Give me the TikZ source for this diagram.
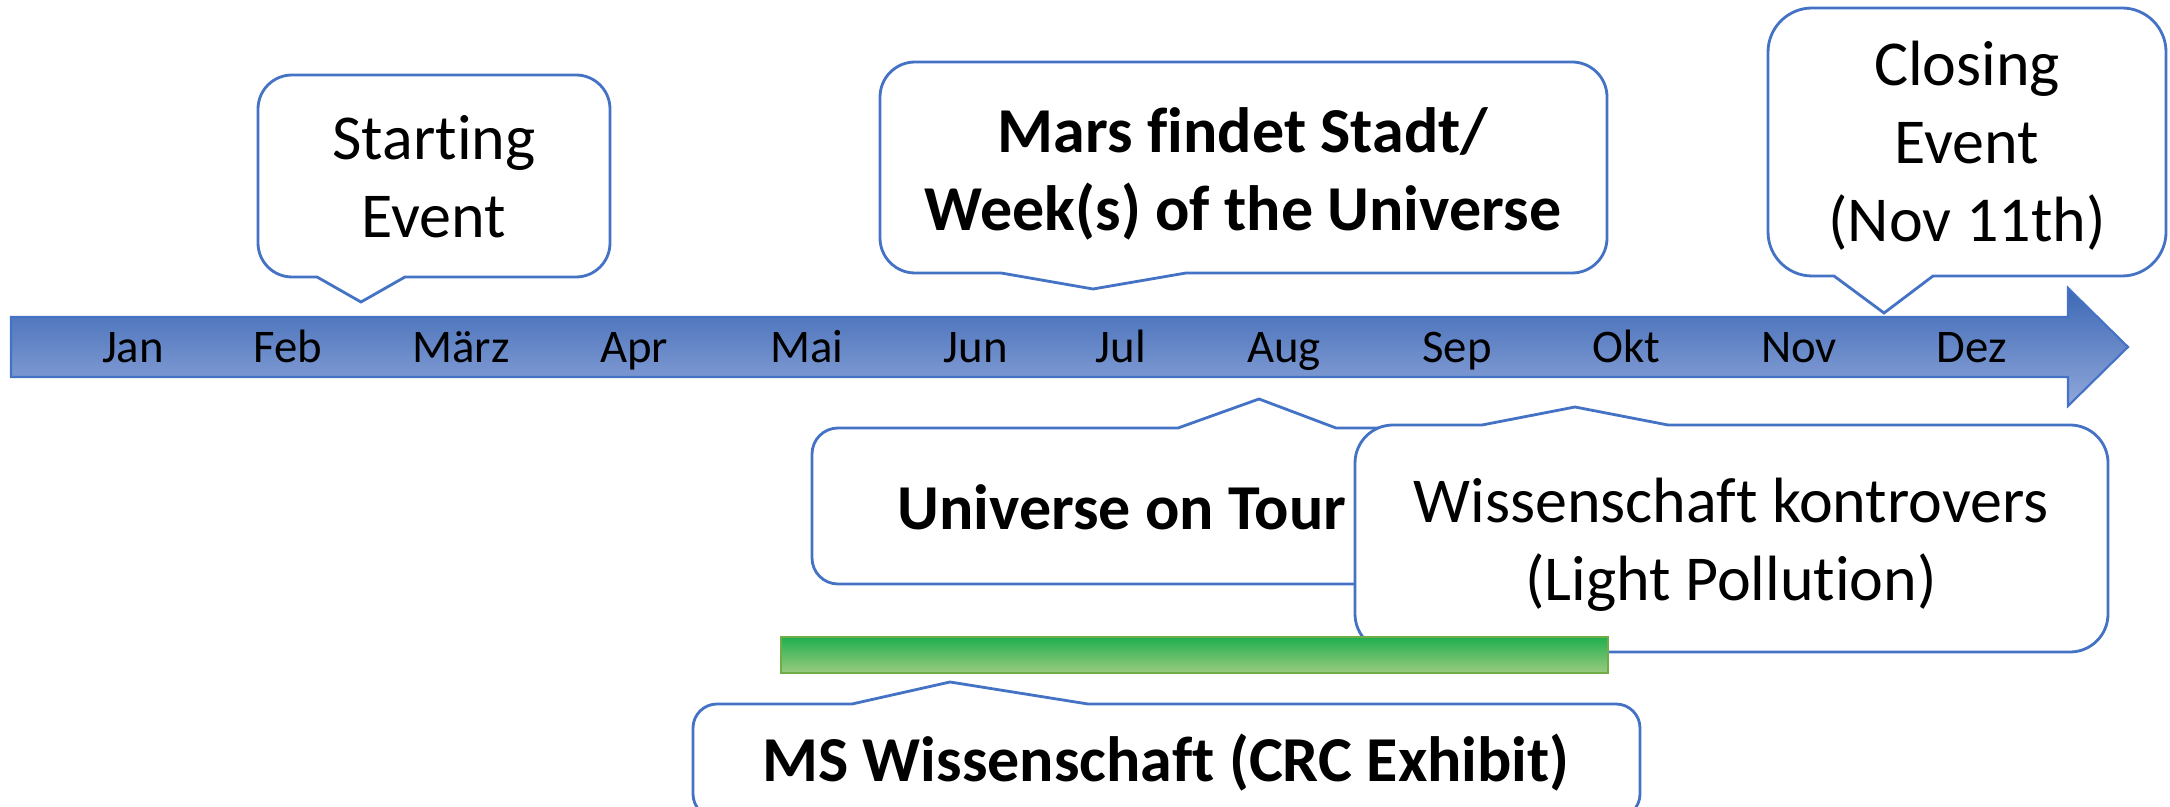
\documentclass[tikz,border=0pt]{standalone}
\usepackage{fontspec}
\setmainfont{Carlito}[Ligatures=NoCommon]
\definecolor{officeblue}{HTML}{4472C4}
\definecolor{bardark}{HTML}{3D68B4}
\definecolor{barlight}{HTML}{A5B4E0}
\definecolor{barlow}{HTML}{90A7DB}
\definecolor{greendark}{HTML}{1EAF4E}
\definecolor{greenlight}{HTML}{ABD191}
\definecolor{greenlow}{HTML}{9CCB80}
\definecolor{greenline}{HTML}{70AD47}

\begin{document}
\begin{tikzpicture}[x=0.01cm, y=-0.01cm]
        \tikzstyle{bubble} = [draw=officeblue, line width=0.8pt, fill=white]
        \tikzstyle{month} = [anchor=base, font=\fontsize{13.3}{16}\selectfont]
        \tikzstyle{event} = [align=center, font=\fontsize{18.2}{22.2}\selectfont]
        \tikzstyle{bold event} = [event, font=\fontsize{18.2}{22.2}\selectfont\bfseries]
        \useasboundingbox (0,0) rectangle (2170,807);
        \clip (0,0) rectangle (2170,807);
        % time line
        \shade[draw=officeblue, line width=0.6pt, top color=bardark, middle color=barlight, bottom color=barlow]
                (11,317) -- (2068,317) -- (2068,288) -- (2128,347) -- (2068,406) -- (2068,377) -- (11,377) -- cycle;
        \foreach \m/\x [count=\i] in {Jan/133, Feb/288, März/461, Apr/634, Mai/807, Jun/976,
                Jul/1121, Aug/1284, Sep/1457, Okt/1626, Nov/1799, Dez/1972}
                \node[month] (m\i) at (\x,363) {\m};
        % callouts above
        \draw[bubble] (434,75) [rounded corners=3.4mm] -- (610,75) -- (610,277) [sharp corners] -- (405,277)
                -- (361,302) -- (317,277) [rounded corners=3.4mm] -- (258,277) -- (258,75) -- cycle;
        \node[event] (start) at (434,177) {Starting\\Event};
        \draw[bubble] (1243,62) [rounded corners=3.5mm] -- (1607,62) -- (1607,273) [sharp corners] -- (1186,273)
                -- (1093,289) -- (1001,273) [rounded corners=3.5mm] -- (880,273) -- (880,62) -- cycle;
        \node[bold event] (mars) at (1243,174) {Mars findet Stadt/\\Week(s) of the Universe};
        \draw[bubble] (1967,8) [rounded corners=4.4mm] -- (2166,8) -- (2166,276) [sharp corners] -- (1933,276)
                -- (1884,313) -- (1834,276) [rounded corners=4.4mm] -- (1768,276) -- (1768,8) -- cycle;
        \node[event] (closing) at (1967,146) {Closing\\Event\\(Nov 11th)};
        % callouts below
        \draw[bubble] (1122,584) [rounded corners=2.6mm] -- (812,584) -- (812,428) [sharp corners] -- (1178,428)
                -- (1259,399) -- (1336,428) [rounded corners=2.6mm] -- (1432,428) -- (1432,584) -- cycle;
        \node[bold event] (tour) at (1122,507) {Universe on Tour};
        \draw[bubble] (1731,652) [rounded corners=3.8mm] -- (1355,652) -- (1355,425) [sharp corners] -- (1482,425)
                -- (1575,407) -- (1668,425) [rounded corners=3.8mm] -- (2108,425) -- (2108,652) -- cycle;
        \node[event] (kontrovers) at (1731,545) {Wissenschaft kontrovers\\(Light Pollution)};
        % exhibition period
        \shade[draw=greenline, line width=0.6pt, top color=greendark, middle color=greenlight, bottom color=greenlow]
                (781,637) rectangle (1608,673);
        \draw[bubble] (1166,818) [rounded corners=2.4mm] -- (693,818) -- (693,704) [sharp corners] -- (852,704)
                -- (950,682) -- (1088,704) [rounded corners=2.4mm] -- (1640,704) -- (1640,818) -- cycle;
        \node[bold event] (exhibit) at (1166,763) {MS Wissenschaft (CRC Exhibit)};
\end{tikzpicture}
\end{document}
